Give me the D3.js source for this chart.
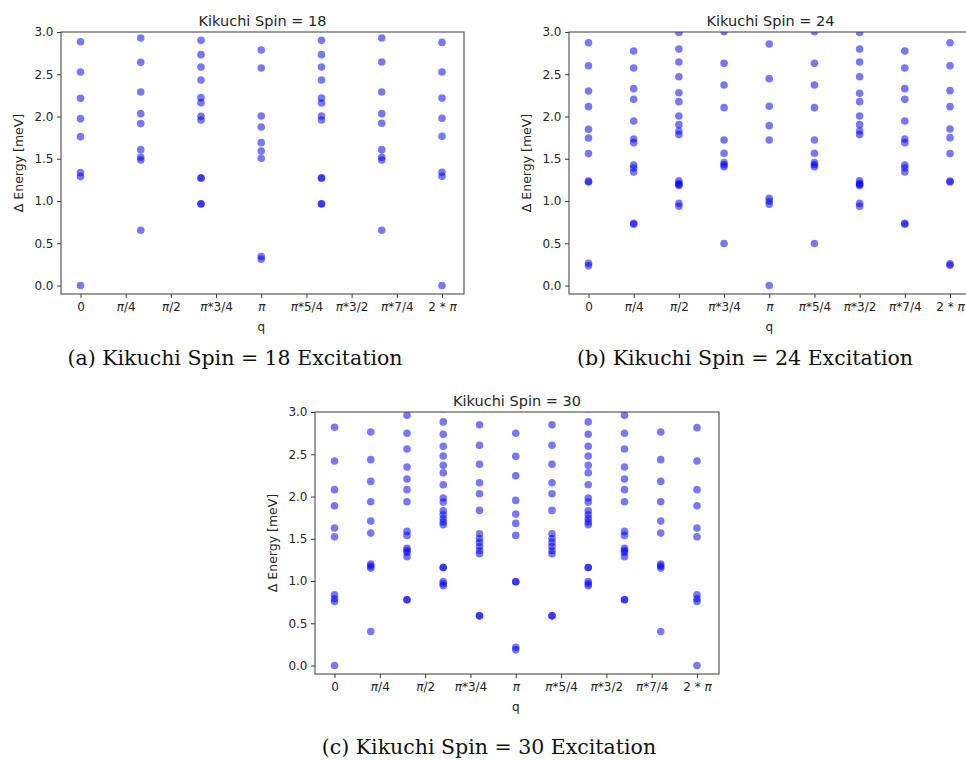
<!DOCTYPE html>
<html>
<head>
<meta charset="utf-8">
<script src="https://cdn.jsdelivr.net/npm/d3@7"></script>
<style>
  html, body { margin: 0; padding: 0; background: #ffffff; }
  svg { display: block; }
</style>
</head>
<body>
<svg id="chart" width="966" height="762"></svg>
<script>
// ---------------- DATA ----------------
// x tick positions (multiples of pi/4) and labels
const xTickMultiples = [0, 0.25, 0.5, 0.75, 1, 1.25, 1.5, 1.75, 2];
const xTickLabels = ["0", "π/4", "π/2", "π*3/4", "π", "π*5/4", "π*3/2", "π*7/4", "2 * π"];
const yTickValues = [0.0, 0.5, 1.0, 1.5, 2.0, 2.5, 3.0];

// q positions as fractions of 2π for each system
const q18 = [0, 1/6, 2/6, 3/6, 4/6, 5/6, 1];
const q24 = [0, 1/8, 2/8, 3/8, 4/8, 5/8, 6/8, 7/8, 1];
const q30 = [0, 1/10, 2/10, 3/10, 4/10, 5/10, 6/10, 7/10, 8/10, 9/10, 1];

// excitation energies (meV) per q column
const spin18Levels = [
  [2.885, 2.527, 2.215, 1.975, 1.762, 1.336, 1.289, 0.0],
  [2.929, 2.641, 2.290, 2.034, 1.916, 1.608, 1.518, 1.486, 0.654],
  [2.901, 2.732, 2.586, 2.432, 2.223, 2.164, 2.002, 1.959, 1.276, 1.270, 0.968, 0.964],
  [2.787, 2.574, 2.006, 1.876, 1.691, 1.592, 1.506, 0.343, 0.311],
  [2.901, 2.732, 2.586, 2.432, 2.218, 2.160, 2.006, 1.959, 1.276, 1.270, 0.968, 0.964],
  [2.929, 2.645, 2.290, 2.034, 1.920, 1.608, 1.518, 1.486, 0.654],
  [2.877, 2.527, 2.218, 1.979, 1.766, 1.340, 1.293, 0.0]
];

const spin24Levels = [
  [2.873, 2.601, 2.302, 2.117, 1.849, 1.746, 1.561, 1.235, 1.225, 0.264, 0.233],
  [2.775, 2.574, 2.330, 2.203, 1.947, 1.734, 1.691, 1.427, 1.391, 1.344, 0.737, 0.725],
  [2.995, 2.799, 2.645, 2.471, 2.282, 2.176, 2.006, 1.904, 1.829, 1.786, 1.238, 1.206, 1.195, 1.183, 0.974, 0.938],
  [3.005, 2.629, 2.373, 2.105, 1.723, 1.565, 1.454, 1.430, 1.407, 0.497],
  [2.858, 2.448, 2.121, 1.892, 1.723, 1.033, 0.997, 0.962, 0.0],
  [3.005, 2.629, 2.373, 2.105, 1.723, 1.565, 1.454, 1.430, 1.407, 0.497],
  [2.995, 2.799, 2.645, 2.471, 2.276, 2.176, 2.006, 1.904, 1.829, 1.786, 1.238, 1.206, 1.195, 1.183, 0.974, 0.938],
  [2.775, 2.574, 2.330, 2.203, 1.947, 1.734, 1.691, 1.427, 1.391, 1.344, 0.737, 0.725],
  [2.873, 2.601, 2.306, 2.117, 1.853, 1.750, 1.561, 1.235, 1.225, 0.256, 0.240]
];

const spin30Levels = [
  [2.819, 2.420, 2.081, 1.891, 1.627, 1.524, 0.837, 0.790, 0.758, 0.0],
  [2.764, 2.436, 2.179, 1.938, 1.709, 1.567, 1.200, 1.176, 1.153, 0.403],
  [2.961, 2.748, 2.562, 2.349, 2.207, 2.081, 1.938, 1.587, 1.540, 1.386, 1.360, 1.338, 1.287, 0.778, 0.778],
  [3.040, 2.883, 2.736, 2.594, 2.480, 2.369, 2.282, 2.140, 1.983, 1.935, 1.832, 1.785, 1.738, 1.698, 1.666, 1.161, 1.161, 0.995, 0.968, 0.944],
  [2.850, 2.606, 2.381, 2.163, 2.033, 1.836, 1.559, 1.504, 1.457, 1.409, 1.362, 1.323, 0.588, 0.588],
  [2.748, 2.475, 2.246, 1.954, 1.792, 1.682, 1.540, 0.991, 0.991, 0.217, 0.186],
  [2.850, 2.606, 2.381, 2.163, 2.033, 1.836, 1.559, 1.504, 1.457, 1.409, 1.362, 1.323, 0.588, 0.588],
  [3.040, 2.883, 2.736, 2.594, 2.480, 2.369, 2.282, 2.140, 1.983, 1.935, 1.832, 1.785, 1.738, 1.698, 1.666, 1.161, 1.161, 0.995, 0.968, 0.944],
  [2.961, 2.748, 2.562, 2.349, 2.207, 2.081, 1.938, 1.587, 1.540, 1.386, 1.360, 1.338, 1.287, 0.778, 0.778],
  [2.764, 2.436, 2.179, 1.938, 1.709, 1.567, 1.200, 1.176, 1.153, 0.403],
  [2.815, 2.420, 2.081, 1.891, 1.627, 1.524, 0.837, 0.790, 0.758, 0.0]
];

const titles = ["Kikuchi Spin = 18", "Kikuchi Spin = 24", "Kikuchi Spin = 30"];
const captions = ["(a) Kikuchi Spin = 18 Excitation", "(b) Kikuchi Spin = 24 Excitation", "(c) Kikuchi Spin = 30 Excitation"];
const xLabel = "q";
const yLabel = "Δ Energy [meV]";

// ---------------- LAYOUT ----------------
const layouts = [
  { left: 61,  right: 464, top: 32,  bottom: 294, capX: 235, capY: 365 },
  { left: 569, right: 972, top: 32,  bottom: 294, capX: 745, capY: 365 },
  { left: 315, right: 719, top: 412, bottom: 674, capX: 489, capY: 754 }
];
const panelData = [
  { q: q18, levels: spin18Levels },
  { q: q24, levels: spin24Levels },
  { q: q30, levels: spin30Levels }
];

const TWO_PI = 2 * Math.PI;
const svg = d3.select("#chart");
const sansFont = "'DejaVu Sans', sans-serif";
const textColor = "#262626";

function piLabel(sel) {
  sel.each(function(d, i) {
    const t = d3.select(this);
    const label = xTickLabels[i];
    t.text(null);
    const parts = label.split("π");
    parts.forEach((p, j) => {
      if (p.length) t.append("tspan").text(p);
      if (j < parts.length - 1) t.append("tspan").attr("font-style", "italic").text("π");
    });
  });
}

panelData.forEach((pd, idx) => {
  const L = layouts[idx];
  const x = d3.scaleLinear().domain([0, TWO_PI]).range([L.left + 19.5, L.right - 22]);
  const y = d3.scaleLinear().domain([-0.1, 3.0]).range([L.bottom, L.top]);

  const g = svg.append("g");
  const clipId = "clip" + idx;
  svg.append("clipPath").attr("id", clipId)
    .append("rect").attr("x", L.left).attr("y", L.top)
    .attr("width", L.right - L.left).attr("height", L.bottom - L.top);

  // points
  const pts = [];
  pd.levels.forEach((col, ci) => col.forEach(e => pts.push({ q: pd.q[ci] * TWO_PI, e })));
  g.append("g").attr("clip-path", `url(#${clipId})`)
    .selectAll("circle").data(pts).join("circle")
    .attr("cx", d => x(d.q)).attr("cy", d => y(d.e))
    .attr("r", 3.8)
    .attr("fill", "#0000ff").attr("fill-opacity", 0.53);

  // frame
  g.append("rect").attr("x", L.left).attr("y", L.top)
    .attr("width", L.right - L.left).attr("height", L.bottom - L.top)
    .attr("fill", "none").attr("stroke", "#3a3a3a").attr("stroke-width", 1);

  // x axis
  const xAxis = d3.axisBottom(x)
    .tickValues(xTickMultiples.map(m => m * Math.PI))
    .tickFormat((d, i) => xTickLabels[i])
    .tickSize(4).tickPadding(4);
  const gx = g.append("g").attr("transform", `translate(0,${L.bottom})`).call(xAxis);
  gx.select(".domain").remove();
  gx.selectAll(".tick line").attr("stroke", "#3a3a3a");
  gx.selectAll(".tick text").attr("font-family", sansFont).attr("font-size", 12)
    .attr("fill", textColor).call(piLabel);

  // y axis
  const yAxis = d3.axisLeft(y).tickValues(yTickValues).tickFormat(d3.format(".1f"))
    .tickSize(4).tickPadding(3.5);
  const gy = g.append("g").attr("transform", `translate(${L.left},0)`).call(yAxis);
  gy.select(".domain").remove();
  gy.selectAll(".tick line").attr("stroke", "#3a3a3a");
  gy.selectAll(".tick text").attr("font-family", sansFont).attr("font-size", 12).attr("fill", textColor);

  // title
  g.append("text").attr("x", (L.left + L.right) / 2).attr("y", L.top - 6)
    .attr("text-anchor", "middle").attr("font-family", sansFont).attr("font-size", 14.5)
    .attr("fill", textColor).text(titles[idx]);

  // axis labels
  g.append("text").attr("x", x(Math.PI)).attr("y", L.bottom + 37)
    .attr("text-anchor", "middle").attr("font-family", sansFont).attr("font-size", 12)
    .attr("fill", textColor).text(xLabel);
  g.append("text")
    .attr("transform", `translate(${L.left - 38},${(L.top + L.bottom) / 2}) rotate(-90)`)
    .attr("text-anchor", "middle").attr("font-family", sansFont).attr("font-size", 12.5)
    .attr("fill", textColor).text(yLabel);

  // caption
  svg.append("text").attr("x", L.capX).attr("y", L.capY)
    .attr("text-anchor", "middle").attr("font-family", "'DejaVu Serif', serif")
    .attr("font-size", 20.5).attr("fill", "#111").text(captions[idx]);
});
</script>
</body>
</html>
